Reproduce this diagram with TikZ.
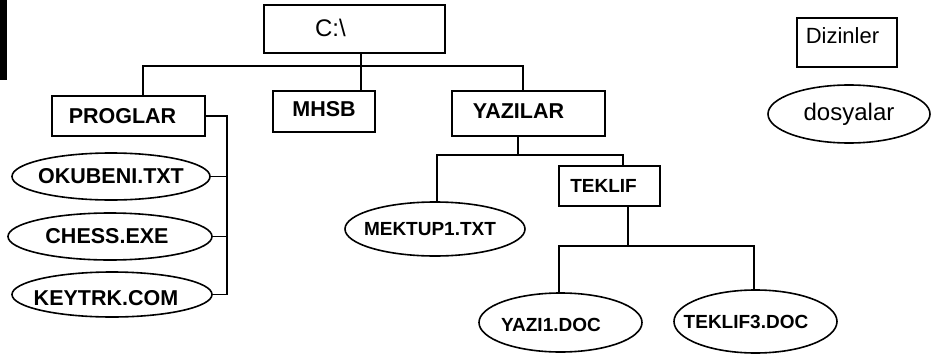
\documentclass[tikz,border=0pt]{standalone}
\usepackage{fontspec}
\setmainfont{Liberation Sans}
\usetikzlibrary{shapes.geometric}
\begin{document}
\begin{tikzpicture}[x=1pt,y=-1pt,line width=1.6pt,
  dirbox/.style={draw,rectangle,inner sep=0pt},
  filell/.style={draw,ellipse,inner sep=0pt},
  bigb/.style={font=\bfseries\fontsize{21.5}{23}\selectfont},
  smallb/.style={font=\bfseries\fontsize{19}{21}\selectfont},
  reg/.style={font=\fontsize{22}{24}\selectfont}]
\useasboundingbox (0,0) rectangle (934,356);
\fill (0,0) rectangle (7,80);
% directories
\node[dirbox,minimum width=181pt,minimum height=48pt,label={[font=\fontsize{24}{26}\selectfont,xshift=-24pt,yshift=1pt]center:C:\textbackslash}] (root) at (354.5,29) {};
\node[dirbox,minimum width=153pt,minimum height=40pt,label={[bigb,xshift=-6pt]center:PROGLAR}] (proglar) at (128.5,116) {};
\node[dirbox,minimum width=102pt,minimum height=41pt,label={[bigb,yshift=2.5pt]center:MHSB}] (mhsb) at (324,111.5) {};
\node[dirbox,minimum width=153pt,minimum height=45pt,label={[bigb,xshift=-10pt,yshift=2.5pt]center:YAZILAR}] (yazilar) at (528.5,113.5) {};
\node[dirbox,minimum width=101pt,minimum height=40pt,label={[smallb,xshift=-6pt]center:TEKLIF}] (teklif) at (609.5,186) {};
\node[dirbox,minimum width=100pt,minimum height=49pt,label={[reg,xshift=-4.5pt,yshift=7pt]center:Dizinler}] (dizin) at (847,42.5) {};
% files
\node[filell,minimum width=198pt,minimum height=47pt,label={[bigb]center:OKUBENI.TXT}] (okubeni) at (111,176.5) {};
\node[filell,minimum width=204pt,minimum height=47pt,label={[bigb,xshift=-3pt]center:CHESS.EXE}] (chess) at (110,236.5) {};
\node[filell,minimum width=200pt,minimum height=45pt,label={[bigb,xshift=-6pt,yshift=-4pt]center:KEYTRK.COM}] (keytrk) at (112,294.5) {};
\node[filell,minimum width=180pt,minimum height=54pt,label={[smallb,xshift=-5pt]center:MEKTUP1.TXT}] (mektup) at (435,229) {};
\node[filell,minimum width=163pt,minimum height=59pt,label={[smallb,xshift=-9.5pt,yshift=-2.5pt]center:YAZI1.DOC}] (yazi1) at (560.5,322.5) {};
\node[filell,minimum width=163pt,minimum height=63pt,label={[smallb,xshift=-9.5pt]center:TEKLIF3.DOC}] (teklif3) at (755.5,321.5) {};
\node[filell,minimum width=162pt,minimum height=58pt,label={[font=\fontsize{24}{26}\selectfont]center:dosyalar}] (dosya) at (849,114) {};
% bus coordinates
\coordinate (b1) at (361,66);
\coordinate (b1L) at (143,66);
\coordinate (b1R) at (523,66);
\coordinate (pv) at (227,117);
\coordinate (b2) at (518,155);
\coordinate (b2L) at (437,155);
\coordinate (b2R) at (623,155);
\coordinate (b3) at (628,246);
\coordinate (b3L) at (559,246);
\coordinate (b3R) at (754,246);
% connectors
\draw (root.south -| b1) -- (mhsb.north -| b1);
\draw (proglar.north -| b1L) -- (b1L) -- (b1R) -- (yazilar.north -| b1R);
\draw (proglar.east) -- (proglar.east -| pv) -- (keytrk.east -| pv) -- (keytrk.east);
\draw (okubeni.east) -- (okubeni.east -| pv);
\draw (chess.east) -- (chess.east -| pv);
\draw (yazilar.south -| b2) -- (b2);
\draw (mektup.north -| b2L) -- (b2L) -- (b2R) -- (teklif.north -| b2R);
\draw (teklif.south -| b3) -- (b3);
\draw (yazi1.north -| b3L) -- (b3L) -- (b3R) -- (teklif3.north -| b3R);
\end{tikzpicture}
\end{document}
